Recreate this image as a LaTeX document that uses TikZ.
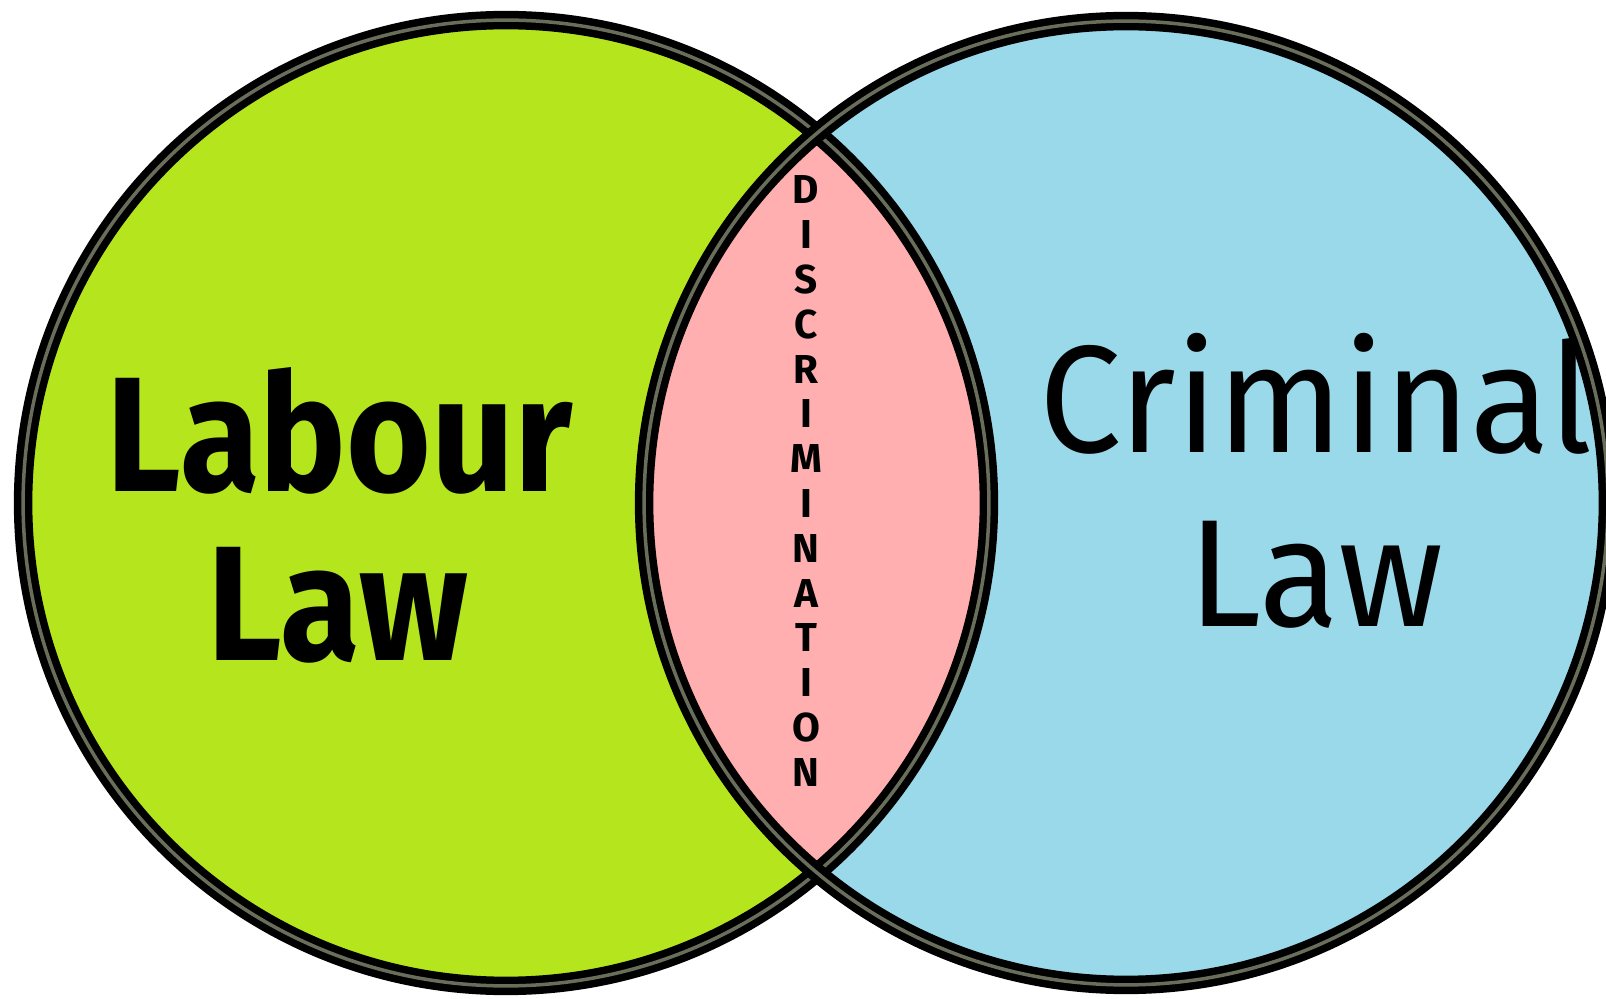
\documentclass[tikz,border=0pt]{standalone}
\usepackage{fontspec}
\setsansfont{Fira Sans}
\newfontfamily\boldlaw[FakeStretch=0.89]{Fira Sans}
\newfontfamily\plainlaw[FakeStretch=0.96]{Fira Sans}
\usetikzlibrary{positioning}

\definecolor{labourgreen}{RGB}{181,230,29}
\definecolor{crimeblue}{RGB}{153,217,234}
\definecolor{overlappink}{RGB}{255,175,175}
\definecolor{ringgray}{RGB}{105,110,90}

\tikzset{
  ring/.style={draw=black, line width=0.15cm, double=ringgray, double distance=0.07cm},
  lawbold/.style={font=\boldlaw\bfseries\fontsize{93}{100}\selectfont, inner sep=0pt, anchor=base},
  lawplain/.style={font=\plainlaw\fontsize{87}{95}\selectfont, inner sep=0pt, anchor=base},
  letter/.style={font=\sffamily\bfseries\fontsize{23}{25}\selectfont, inner sep=0pt, anchor=base}
}

\begin{document}
\begin{tikzpicture}[x=0.02cm, y=-0.02cm]
\useasboundingbox (0,0) rectangle (1606,999);

\coordinate (labourc) at (506,503);
\coordinate (crimec) at (1126,503);

\fill[labourgreen] (labourc) circle (9.66cm);
\fill[crimeblue] (crimec) circle (9.64cm);
\begin{scope}
\clip (labourc) circle (9.66cm);
\fill[overlappink] (crimec) circle (9.64cm);
\end{scope}

\draw[ring] (labourc) circle (9.66cm);
\draw[ring] (crimec) circle (9.64cm);

\node[lawbold] (labour) at (340,492) {Labour};
\node[lawbold] (labourlaw) at (338,661) {Law};

\node[lawplain] (criminal) at (1316,453) {Criminal};
\node[lawplain] (criminallaw) at (1316,627) {Law};

\foreach \ch [count=\i] in {D,I,S,C,R,I,M,I,N,A,T,I,O,N}
  \node[letter] (disc\i) at (806,{204+(\i-1)*44.8}) {\ch};
\end{tikzpicture}
\end{document}
